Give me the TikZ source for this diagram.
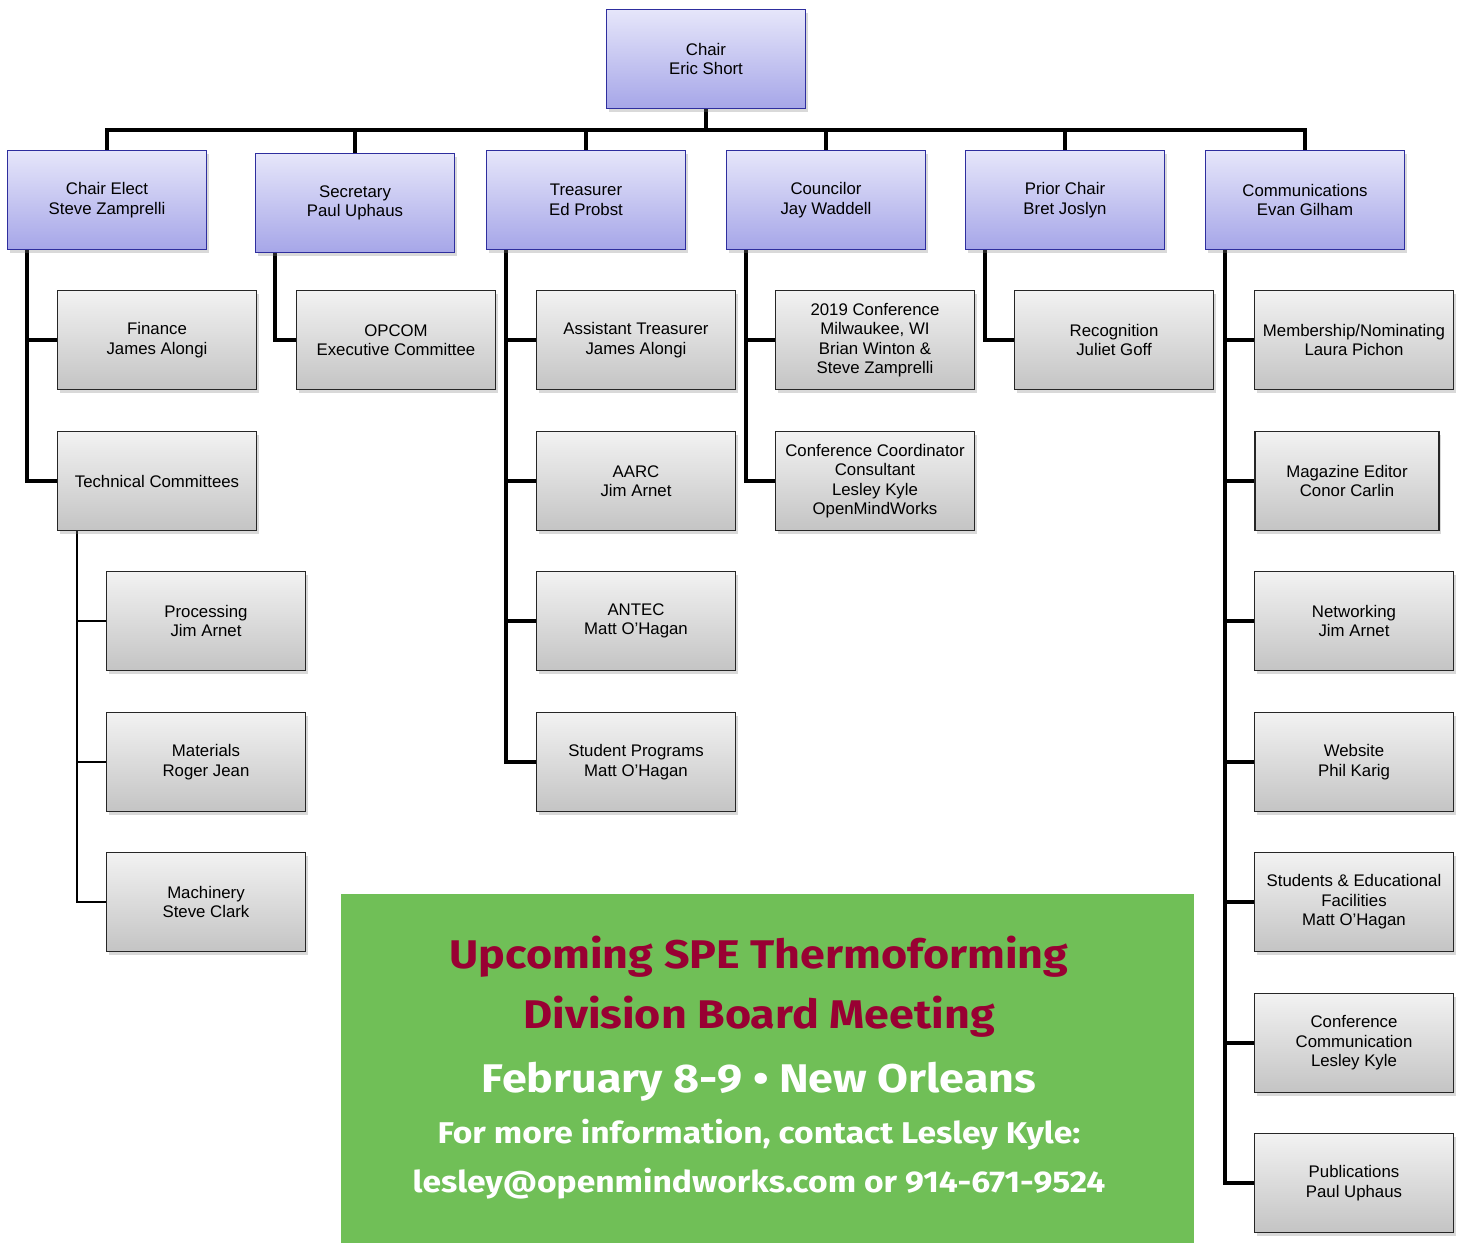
\documentclass[tikz,border=0pt]{standalone}
\usepackage{fontspec}
\setmainfont{Liberation Sans}
\newfontfamily\promofont{Fira Sans}[FakeStretch=1.12]
\usetikzlibrary{shadows,backgrounds}
\definecolor{boardblue}{RGB}{46,46,158}
\definecolor{boardtop}{RGB}{230,230,250}
\definecolor{boardbot}{RGB}{166,166,232}
\definecolor{subtop}{RGB}{242,242,242}
\definecolor{subbot}{RGB}{196,196,196}
\definecolor{meetgreen}{RGB}{112,191,87}
\definecolor{meetred}{RGB}{153,0,51}
\tikzset{
  board/.style={rectangle, draw=boardblue, line width=1.5pt, top color=boardtop, bottom color=boardbot,
    minimum width=199pt, minimum height=99pt, align=center, inner sep=2pt,
    font=\fontsize{16.8}{19.5}\selectfont,
    drop shadow={opacity=0.3, shadow xshift=2pt, shadow yshift=-3pt}},
  sub/.style={board, draw=black!85, top color=subtop, bottom color=subbot},
  link/.style={line width=4pt},
  thinlink/.style={line width=2pt},
  promo/.style={anchor=base, inner sep=0pt, font=\promofont\bfseries}
}
\begin{document}
\begin{tikzpicture}[x=1pt, y=-1pt]
    \useasboundingbox (0,0) rectangle (1460,1243);

    \node[board] (chair) at (706, 59) {Chair\\Eric Short};

    \node[board] (elect) at (107, 200) {Chair Elect\\Steve Zamprelli};
    \node[board] (sec) at (355, 203) {Secretary\\Paul Uphaus};
    \node[board] (treas) at (586, 200) {Treasurer\\Ed Probst};
    \node[board] (coun) at (826, 200) {Councilor\\Jay Waddell};
    \node[board] (prior) at (1065, 200) {Prior Chair\\Bret Joslyn};
    \node[board] (comm) at (1305, 200) {Communications\\Evan Gilham};

    \node[sub] (fin) at (157, 340) {Finance\\James Alongi};
    \node[sub] (tech) at (157, 481) {Technical Committees};
    \node[sub] (proc) at (206, 621) {Processing\\Jim Arnet};
    \node[sub] (mat) at (206, 762) {Materials\\Roger Jean};
    \node[sub] (mach) at (206, 902) {Machinery\\Steve Clark};

    \node[sub] (opcom) at (396, 340) {OPCOM\\Executive Committee};

    \node[sub] (asst) at (636, 340) {Assistant Treasurer\\James Alongi};
    \node[sub] (aarc) at (636, 481) {AARC\\Jim Arnet};
    \node[sub] (antec) at (636, 621) {ANTEC\\Matt O’Hagan};
    \node[sub] (stud) at (636, 762) {Student Programs\\Matt O’Hagan};

    \node[sub] (conf) at (875, 340) {2019 Conference\\Milwaukee, WI\\Brian Winton \&\\Steve Zamprelli};
    \node[sub] (coord) at (875, 481) {Conference Coordinator\\Consultant\\Lesley Kyle\\OpenMindWorks};

    \node[sub] (recog) at (1114, 340) {Recognition\\Juliet Goff};

    \node[sub] (memb) at (1354, 340) {Membership/Nominating\\Laura Pichon};
    \node[sub, minimum width=184pt] (mag) at (1347, 481) {Magazine Editor\\Conor Carlin};
    \node[sub] (net) at (1354, 621) {Networking\\Jim Arnet};
    \node[sub] (web) at (1354, 762) {Website\\Phil Karig};
    \node[sub] (edu) at (1354, 902) {Students \& Educational\\Facilities\\Matt O’Hagan};
    \node[sub] (ccom) at (1354, 1043) {Conference\\Communication\\Lesley Kyle};
    \node[sub] (pub) at (1354, 1183) {Publications\\Paul Uphaus};

    % 線を引く
    \begin{scope}[on background layer]
    \coordinate (bus) at (706, 130);
    \draw[link] (chair.south) -- (bus);
    \foreach \n in {elect, sec, treas, coun, prior, comm}
        \draw[link] (bus) -| (\n.north);
    \foreach \n in {fin, tech}
        \draw[link] ([xshift=20pt]elect.south west) |- (\n.west);
    \draw[link] ([xshift=20pt]sec.south west) |- (opcom.west);
    \foreach \n in {asst, aarc, antec, stud}
        \draw[link] ([xshift=20pt]treas.south west) |- (\n.west);
    \foreach \n in {conf, coord}
        \draw[link] ([xshift=20pt]coun.south west) |- (\n.west);
    \draw[link] ([xshift=20pt]prior.south west) |- (recog.west);
    \foreach \n in {memb, mag, net, web, edu, ccom, pub}
        \draw[link] ([xshift=20pt]comm.south west) |- (\n.west);
    \foreach \n in {proc, mat, mach}
        \draw[thinlink] ([xshift=20pt]tech.south west) |- (\n.west);
    \end{scope}

    % 会議のお知らせ
    \node[rectangle, fill=meetgreen, minimum width=853pt, minimum height=349pt, inner sep=0pt] (meet) at (767.5, 1068.5) {};
    \node[promo, text=meetred, font=\promofont\bfseries\fontsize{40}{48}\selectfont] (line1) at (759, 968) {Upcoming SPE Thermoforming};
    \node[promo, text=meetred, font=\promofont\bfseries\fontsize{40}{48}\selectfont] (line2) at (759, 1028) {Division Board Meeting};
    \node[promo, text=white, font=\promofont\bfseries\fontsize{40}{48}\selectfont] (line3) at (759, 1092) {February 8-9 • New Orleans};
    \node[promo, text=white, font=\promofont\bfseries\fontsize{30}{36}\selectfont] (line4) at (759, 1143) {For more information, contact Lesley Kyle:};
    \node[promo, text=white, font=\promofont\bfseries\fontsize{30}{36}\selectfont] (line5) at (759, 1192) {lesley@openmindworks.com or 914-671-9524};

\end{tikzpicture}
\end{document}
